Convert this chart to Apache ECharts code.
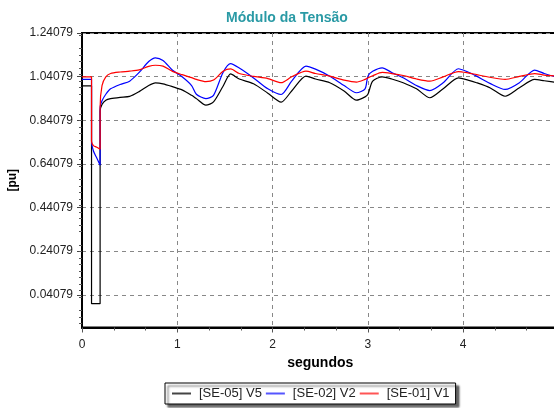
<!DOCTYPE html>
<html><head><meta charset="utf-8">
<script src="https://cdn.jsdelivr.net/npm/echarts@6/dist/echarts.min.js"></script>
<style>html,body{margin:0;padding:0;background:#fff}#c{width:554px;height:408px}</style>
</head><body><div id="c"></div><script>
const titleText = 'Módulo da Tensão';
const xName = 'segundos';
const yName = '[pu]';
const seriesNames = ['[SE-05] V5', '[SE-02] V2', '[SE-01] V1'];
const seriesColors = ['#000000', '#0000ff', '#ff0000'];
const yTicks = [0.04079, 0.24079, 0.44079, 0.64079, 0.84079, 1.04079, 1.24079];
const xTicks = [0, 1, 2, 3, 4];

const times = [0, 0.1, 0.1, 0.12, 0.15, 0.19, 0.19, 0.21, 0.25, 0.3, 0.4, 0.5, 0.6, 0.7, 0.77, 0.85, 0.95, 1.05, 1.15, 1.2, 1.3, 1.38, 1.48, 1.56, 1.65, 1.8, 1.95, 2.09, 2.2, 2.35, 2.45, 2.6, 2.75, 2.88, 2.97, 3.0, 3.05, 3.15, 3.25, 3.37, 3.51, 3.65, 3.79, 3.95, 4.05, 4.14, 4.28, 4.44, 4.59, 4.75, 4.85, 5.0];
const v5 = [0.998, 0.998, 0.0, 0.0, 0.0, 0.0, 0.883, 0.913, 0.933, 0.94, 0.946, 0.95, 0.972, 1.0, 1.012, 1.008, 0.995, 0.98, 0.955, 0.94, 0.91, 0.925, 0.997, 1.053, 1.03, 1.008, 0.965, 0.924, 0.975, 1.043, 1.03, 1.013, 0.975, 0.933, 0.948, 0.96, 1.02, 1.04, 1.03, 1.013, 0.985, 0.944, 0.985, 1.035, 1.025, 1.013, 0.99, 0.951, 0.99, 1.028, 1.022, 1.013];
const v2 = [1.028, 1.028, 0.745, 0.70, 0.672, 0.635, 0.90, 0.93, 0.96, 0.985, 1.005, 1.02, 1.06, 1.11, 1.127, 1.115, 1.07, 1.04, 1.0, 0.96, 0.94, 0.955, 1.06, 1.10, 1.08, 1.035, 0.985, 0.959, 1.02, 1.089, 1.075, 1.043, 1.0, 0.967, 0.985, 1.043, 1.065, 1.081, 1.06, 1.036, 1.0, 0.977, 1.013, 1.077, 1.062, 1.043, 1.01, 0.982, 1.013, 1.071, 1.055, 1.036];
const v1 = [1.040, 1.040, 0.745, 0.725, 0.718, 0.708, 0.90, 1.0, 1.04, 1.055, 1.062, 1.066, 1.072, 1.088, 1.093, 1.089, 1.065, 1.05, 1.036, 1.028, 1.018, 1.025, 1.065, 1.076, 1.055, 1.042, 1.032, 1.013, 1.04, 1.066, 1.055, 1.043, 1.025, 1.016, 1.028, 1.035, 1.045, 1.06, 1.055, 1.046, 1.03, 1.02, 1.04, 1.064, 1.058, 1.05, 1.038, 1.028, 1.042, 1.055, 1.048, 1.043];

const seriesValues = [v5, v2, v1];
const font = "'Liberation Sans', Arial, sans-serif";

const chart = echarts.init(document.getElementById('c'), null, {renderer: 'canvas'});
chart.setOption({
  backgroundColor: '#fff',
  animation: false,
  title: {
    text: titleText, left: 282, top: 6, textAlign: 'center',
    textStyle: {color: '#2a9aa5', fontSize: 14, fontWeight: 'bold', fontFamily: font}
  },
  grid: {left: 82, top: 33, width: 476.5, height: 294.5, show: true, borderColor: '#000', borderWidth: 2, backgroundColor: '#fff', containLabel: false, outerBoundsMode: 'none'},
  xAxis: {
    type: 'value', min: 0, max: 5, interval: 1,
    name: xName, nameLocation: 'middle', nameGap: 29,
    nameTextStyle: {fontSize: 14, fontWeight: 'bold', color: '#000', fontFamily: font},
    axisLine: {show: true, onZero: false, lineStyle: {color: '#000', width: 2}},
    axisTick: {show: true, length: 5, lineStyle: {color: '#555'}},
    minorTick: {show: true, splitNumber: 3, length: 3, lineStyle: {color: '#555'}},
    axisLabel: {fontSize: 12, color: '#222', margin: 11, fontFamily: font, showMaxLabel: false},
    splitLine: {show: true, lineStyle: {color: '#888', type: [4, 4], width: 1}}
  },
  yAxis: {
    type: 'value', min: -0.109, max: 1.24079,
    name: yName, nameLocation: 'middle', nameGap: 62, nameRotate: 90,
    nameTextStyle: {fontSize: 12, fontWeight: 'bold', color: '#000', fontFamily: font},
    axisLine: {show: true, lineStyle: {color: '#000', width: 2}},
    axisTick: {show: true, length: 5, customValues: yTicks, lineStyle: {color: '#444'}},
    minorTick: {show: true, splitNumber: 10, length: 3, lineStyle: {color: '#555'}},
    axisLabel: {fontSize: 12, color: '#222', margin: 9, fontFamily: font, customValues: yTicks,
      formatter: v => Number(v).toFixed(5)},
    splitLine: {show: true, lineStyle: {color: '#888', type: [4, 4], width: 1}}
  },
  legend: {
    left: 165, top: 383, orient: 'horizontal',
    data: seriesNames.map((n, k) => ({name: n, icon: 'rect', itemStyle: {color: ['#444', '#5555ff', '#ff5555'][k]}})),
    itemWidth: 19, itemHeight: 2, itemGap: 4,
    padding: [4, 6, 4, 7],
    backgroundColor: '#fff', borderColor: '#000', borderWidth: 1,
    shadowColor: 'rgba(0,0,0,0.6)', shadowBlur: 2, shadowOffsetX: 3, shadowOffsetY: 3,
    textStyle: {fontSize: 13, color: '#222', fontFamily: font, padding: [0, 0, 0, 3]}
  },
  series: seriesNames.map((n, k) => ({
    name: n, type: 'line', symbol: 'none', smooth: 0.25,
    color: seriesColors[k],
    lineStyle: {color: seriesColors[k], width: 1.2},
    data: times.map((t, i) => [t, seriesValues[k][i]])
  }))
});
</script></body></html>
